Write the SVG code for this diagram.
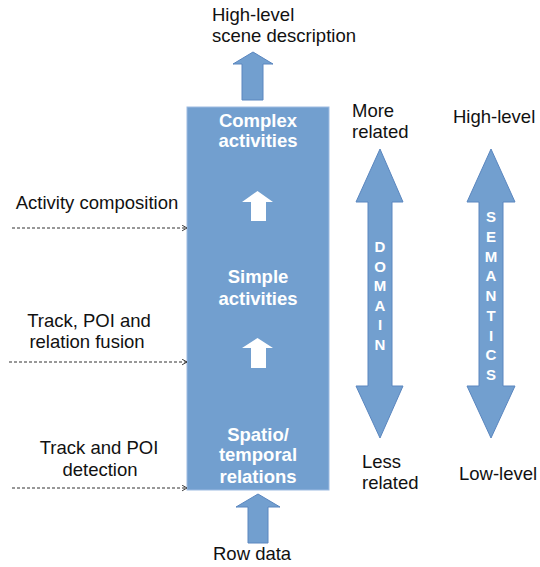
<svg xmlns="http://www.w3.org/2000/svg" width="540" height="567" viewBox="0 0 540 567">
  <style>
    .lbl { font-family: "Liberation Sans", Arial, sans-serif; font-size: 18.5px; fill: #111; }
    .in { font-family: "Liberation Sans", Arial, sans-serif; font-size: 18.5px; font-weight: bold; fill: #fff; text-anchor: middle; }
    .vert { font-family: "Liberation Sans", Arial, sans-serif; font-size: 15px; font-weight: bold; fill: #fff; text-anchor: middle; }
    .blue { fill: #729fcf; stroke: #5a86bf; stroke-width: 1; }
    .white { fill: #fff; stroke: none; }
    .dash { fill: none; stroke: #333; stroke-width: 1; stroke-dasharray: 3 2; }
  </style>
  <defs>
    <marker id="open" viewBox="0 0 10 10" refX="9" refY="5" markerWidth="7" markerHeight="7" orient="auto" markerUnits="userSpaceOnUse">
      <path d="M2,1 L9,5 L2,9" fill="none" stroke="#333" stroke-width="1.4"/>
    </marker>
  </defs>

  <rect width="540" height="567" fill="#fff"/>

  <!-- central processing column -->
  <g id="column">
    <rect x="187" y="107" width="142" height="383" fill="#729fcf" stroke="#9dbbe2" stroke-width="1"/>
    <text class="in" x="258" y="127">Complex</text>
    <text class="in" x="258" y="147">activities</text>
    <text class="in" x="258" y="283">Simple</text>
    <text class="in" x="258" y="305">activities</text>
    <text class="in" x="258" y="441">Spatio/</text>
    <text class="in" x="258" y="461">temporal</text>
    <text class="in" x="258" y="483">relations</text>
    <!-- inner upward arrows -->
    <polygon class="white" points="257.5,191 273,202 266,202 266,221 251,221 251,202 242,202"/>
    <polygon class="white" points="257.5,338 273,348 266,348 266,368 251,368 251,348 242,348"/>
  </g>

  <!-- output arrow -->
  <g id="output">
    <polygon class="blue" points="253,52 273,64 263,64 263,100 242,100 242,64 233,64"/>
    <text class="lbl" x="212" y="21">High-level</text>
    <text class="lbl" x="212" y="42">scene description</text>
  </g>

  <!-- input arrow -->
  <g id="input">
    <polygon class="blue" points="258,494 280,507 268,507 268,543 248,543 248,507 236,507"/>
    <text class="lbl" x="213" y="560">Row data</text>
  </g>

  <!-- processing steps -->
  <g id="step-activity">
    <text class="lbl" x="97" y="209" text-anchor="middle">Activity composition</text>
  </g>
  <g id="step-fusion">
    <text class="lbl" x="89" y="327" text-anchor="middle">Track, POI and</text>
    <text class="lbl" x="87" y="348" text-anchor="middle">relation fusion</text>
  </g>
  <g id="step-detection">
    <text class="lbl" x="99" y="454" text-anchor="middle">Track and POI</text>
    <text class="lbl" x="100" y="476" text-anchor="middle">detection</text>
  </g>

  <g id="connectors">
    <line class="dash" x1="12" y1="228" x2="187" y2="228" marker-end="url(#open)"/>
    <line class="dash" x1="9" y1="362" x2="187" y2="362" marker-end="url(#open)"/>
    <line class="dash" x1="12" y1="488" x2="187" y2="488" marker-end="url(#open)"/>
  </g>

  <!-- domain scale -->
  <g id="domain">
    <polygon class="blue" points="380,149 403,202 392,202 392,386 403,386 380,438 356,386 368,386 368,202 356,202"/>
    <text class="vert" x="380" y="252">D</text>
    <text class="vert" x="380" y="272">O</text>
    <text class="vert" x="380" y="291">M</text>
    <text class="vert" x="380" y="311">A</text>
    <text class="vert" x="380" y="330">I</text>
    <text class="vert" x="380" y="350">N</text>
    <text class="lbl" x="352" y="117">More</text>
    <text class="lbl" x="352" y="138">related</text>
    <text class="lbl" x="362" y="468">Less</text>
    <text class="lbl" x="362" y="489">related</text>
  </g>

  <!-- semantics scale -->
  <g id="semantics">
    <polygon class="blue" points="491,149 515,202 503,202 503,386 515,386 491,438 467,386 479,386 479,202 467,202"/>
    <text class="vert" x="491" y="222">S</text>
    <text class="vert" x="491" y="242">E</text>
    <text class="vert" x="491" y="262">M</text>
    <text class="vert" x="491" y="281">A</text>
    <text class="vert" x="491" y="301">N</text>
    <text class="vert" x="491" y="321">T</text>
    <text class="vert" x="491" y="341">I</text>
    <text class="vert" x="491" y="360">C</text>
    <text class="vert" x="491" y="380">S</text>
    <text class="lbl" x="453" y="123">High-level</text>
    <text class="lbl" x="459" y="480">Low-level</text>
  </g>
</svg>
